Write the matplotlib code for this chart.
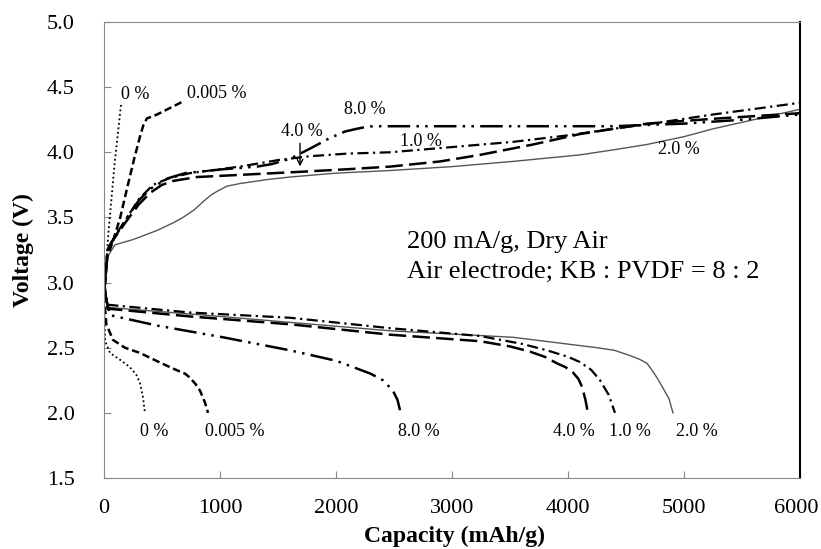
import matplotlib
matplotlib.use("Agg")
import matplotlib.pyplot as plt

plt.rcParams["font.family"] = ["Liberation Serif", "DejaVu Serif"]

# charge curves (capacity mAh/g, voltage V)
ch0_x = [0, 40, 90, 147]
ch0_v = [2.9, 3.4, 3.9, 4.37]
ch0005_x = [0, 30, 78, 140, 198, 260, 310, 340, 370, 457, 681]
ch0005_v = [2.9, 3.2, 3.32, 3.5, 3.72, 3.95, 4.12, 4.21, 4.26, 4.29, 4.39]
ch1_x = [0, 30, 80, 200, 300, 422, 560, 741, 1000, 1172, 1500, 1776, 2100, 2466, 3000, 3526, 4000, 4388, 4800, 5250, 6000]
ch1_v = [2.9, 3.25, 3.34, 3.5, 3.64, 3.75, 3.8, 3.84, 3.87, 3.89, 3.94, 3.97, 3.99, 4.0, 4.04, 4.08, 4.13, 4.18, 4.23, 4.29, 4.38]
ch2_x = [0, 30, 95, 250, 457, 600, 681, 780, 853, 920, 974, 1060, 1172, 1400, 1603, 2000, 2466, 3000, 3526, 4103, 4400, 4681, 5000, 5250, 5600, 6000]
ch2_v = [2.9, 3.2, 3.29, 3.33, 3.4, 3.46, 3.5, 3.56, 3.62, 3.67, 3.7, 3.74, 3.76, 3.79, 3.81, 3.84, 3.86, 3.89, 3.93, 3.98, 4.02, 4.06, 4.12, 4.18, 4.25, 4.33]
ch4_x = [0, 30, 80, 200, 300, 400, 500, 595, 800, 1026, 1690, 2100, 2466, 2900, 3241, 3700, 4103, 4681, 5300, 6000]
ch4_v = [2.9, 3.25, 3.33, 3.48, 3.6, 3.69, 3.75, 3.78, 3.81, 3.82, 3.85, 3.87, 3.89, 3.93, 3.98, 4.06, 4.14, 4.22, 4.26, 4.30]
ch8_x = [0, 30, 80, 200, 300, 400, 550, 700, 1026, 1319, 1450, 1603, 1780, 1948, 2080, 2178, 2260, 2319, 3000, 4388, 5000, 5500, 6000]
ch8_v = [2.9, 3.25, 3.33, 3.5, 3.63, 3.72, 3.8, 3.84, 3.87, 3.89, 3.91, 3.95, 4.03, 4.11, 4.16, 4.18, 4.195, 4.2, 4.2, 4.2, 4.22, 4.25, 4.29]

# discharge curves
dis0_x = [0, 10, 52, 150, 224, 280, 310, 336, 353]
dis0_v = [2.85, 2.55, 2.46, 2.4, 2.35, 2.29, 2.23, 2.12, 2.0]
dis0005_x = [0, 20, 78, 180, 310, 450, 595, 700, 741, 790, 828, 870, 897]
dis0005_v = [2.9, 2.68, 2.56, 2.5, 2.46, 2.4, 2.34, 2.3, 2.27, 2.22, 2.17, 2.08, 2.0]
dis1_x = [0, 30, 741, 1603, 2466, 3241, 3600, 3819, 4000, 4103, 4200, 4276, 4350, 4405]
dis1_v = [3.0, 2.83, 2.77, 2.73, 2.65, 2.59, 2.53, 2.48, 2.43, 2.39, 2.33, 2.25, 2.14, 2.0]
dis2_x = [0, 30, 1000, 2466, 3526, 4250, 4400, 4534, 4620, 4681, 4730, 4767, 4819, 4870, 4905]
dis2_v = [3.0, 2.81, 2.74, 2.63, 2.58, 2.5, 2.48, 2.44, 2.41, 2.38, 2.32, 2.27, 2.19, 2.11, 2.0]
dis4_x = [0, 30, 741, 1603, 2466, 3241, 3500, 3672, 3800, 3905, 3980, 4043, 4090, 4121, 4150, 4172]
dis4_v = [3.0, 2.80, 2.74, 2.68, 2.6, 2.55, 2.51, 2.47, 2.43, 2.38, 2.35, 2.31, 2.26, 2.2, 2.1, 2.0]
dis8_x = [0, 52, 457, 1026, 1603, 2000, 2181, 2300, 2405, 2491, 2530, 2552]
dis8_v = [2.95, 2.75, 2.67, 2.58, 2.48, 2.4, 2.34, 2.3, 2.25, 2.17, 2.1, 2.02]

x_ticks = [0, 1000, 2000, 3000, 4000, 5000, 6000]
x_tick_labels = ["0", "1000", "2000", "3000", "4000", "5000", "6000"]
y_ticks = [1.5, 2.0, 2.5, 3.0, 3.5, 4.0, 4.5, 5.0]
y_tick_labels = ["1.5", "2.0", "2.5", "3.0", "3.5", "4.0", "4.5", "5.0"]

fig, ax = plt.subplots(figsize=(8.21, 5.49), dpi=100)
fig.subplots_adjust(left=104 / 821, right=800 / 821, top=1 - 22 / 549, bottom=1 - 478 / 549)

k = "black"
s0 = dict(color=k, lw=1.3, ls=(0, (1, 1.5)))
s0005 = dict(color=k, lw=1.8, ls=(0, (3, 1.5)))
s1 = dict(color=k, lw=1.6, ls=(0, (5, 2, 1, 2)))
s2 = dict(color="#555555", lw=1.0, ls="-")
s4 = dict(color=k, lw=1.8, ls=(0, (7, 2.5)))
s8 = dict(color=k, lw=1.8, ls=(0, (9, 2.5, 1, 2.5, 1, 2.5)))

ax.plot(ch2_x, ch2_v, **s2)
ax.plot(dis2_x, dis2_v, **s2)
ax.plot(ch0_x, ch0_v, **s0)
ax.plot(dis0_x, dis0_v, **s0)
ax.plot(ch0005_x, ch0005_v, **s0005)
ax.plot(dis0005_x, dis0005_v, **s0005)
ax.plot(ch1_x, ch1_v, **s1)
ax.plot(dis1_x, dis1_v, **s1)
ax.plot(ch4_x, ch4_v, **s4)
ax.plot(dis4_x, dis4_v, **s4)
ax.plot(ch8_x, ch8_v, **s8)
ax.plot(dis8_x, dis8_v, **s8)

ax.set_xlim(0, 6000)
ax.set_ylim(1.5, 5.0)
ax.set_xticks(x_ticks)
# last label drawn separately so it stays inside the figure
ax.set_xticklabels(x_tick_labels[:-1] + [""])
ax.set_yticks(y_ticks)
ax.set_yticklabels(y_tick_labels)
ax.tick_params(direction="in", length=5, color="#888888", labelsize=16)
ax.tick_params(axis="y", pad=21)
ax.tick_params(axis="x", pad=15)
ax.annotate(x_tick_labels[-1], xy=(x_ticks[-1], 0), xycoords=("data", "axes fraction"),
            xytext=(-3, -15), textcoords="offset points", ha="center", va="top", fontsize=16)
for side in ["left", "bottom", "top"]:
    ax.spines[side].set_color("#888888")
ax.spines["right"].set_color("black")
ax.spines["right"].set_linewidth(1.5)

ax.set_xlabel("Capacity (mAh/g)", fontsize=17, fontweight="bold")
ax.set_ylabel("Voltage (V)", fontsize=17, fontweight="bold")
ax.xaxis.set_label_coords(0.504, -0.105)
ax.yaxis.set_label_coords(-0.100, 0.5)

lf = 13
# charge labels
ax.text(267, 4.44, "0 %", fontsize=lf, ha="center", va="center")
ax.text(974, 4.455, "0.005 %", fontsize=lf, ha="center", va="center")
ax.text(2250, 4.33, "8.0 %", fontsize=lf, ha="center", va="center")
ax.text(2733, 4.08, "1.0 %", fontsize=lf, ha="center", va="center")
ax.text(4957, 4.02, "2.0 %", fontsize=lf, ha="center", va="center")
ax.text(1707, 4.16, "4.0 %", fontsize=lf, ha="center", va="center")
ax.annotate("", xy=(1690, 3.87), xytext=(1690, 4.09),
            arrowprops=dict(arrowstyle="->", color=k, lw=1.0))
# discharge labels
ax.text(431, 1.86, "0 %", fontsize=lf, ha="center", va="center")
ax.text(1129, 1.86, "0.005 %", fontsize=lf, ha="center", va="center")
ax.text(2716, 1.86, "8.0 %", fontsize=lf, ha="center", va="center")
ax.text(4052, 1.86, "4.0 %", fontsize=lf, ha="center", va="center")
ax.text(4534, 1.86, "1.0 %", fontsize=lf, ha="center", va="center")
ax.text(5112, 1.86, "2.0 %", fontsize=lf, ha="center", va="center")

ax.text(2612, 3.31, "200 mA/g, Dry Air", fontsize=19, ha="left", va="center")
ax.text(2612, 3.08, "Air electrode; KB : PVDF = 8 : 2", fontsize=19, ha="left", va="center")

fig.savefig("out.png", dpi=100)
